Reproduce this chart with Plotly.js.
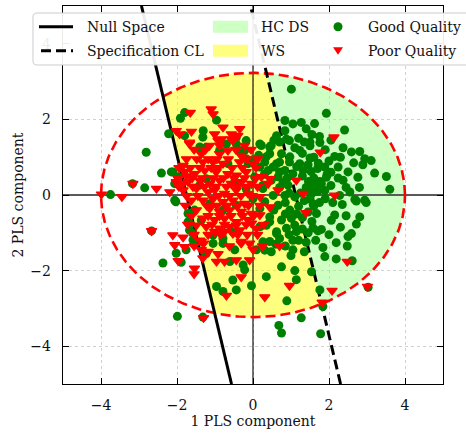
<!DOCTYPE html>
<html>
<head>
<meta charset="utf-8">
<script src="https://cdn.plot.ly/plotly-3.0.1.min.js"></script>
<style>
  html, body { margin: 0; padding: 0; background: #fff; }
  #chart { width: 466px; height: 434px; }
</style>
</head>
<body>
<div id="chart"></div>
<script>
// Scores on the first two PLS components: [component 1, component 2]
const goodQuality = [
  [-1.91,2.03],[-1.80,2.18],[-2.22,1.62],[-2.81,1.13],[-2.41,0.58],[-2.15,0.61],[-2.85,0.19],[-3.75,0.01],[-3.17,0.30],[-2.06,-0.14],
  [1.01,2.80],[-0.96,1.98],[-1.31,1.70],[0.84,1.97],[1.05,1.88],[1.27,1.92],[1.40,1.75],[0.84,1.70],[0.62,1.57],[0.22,1.31],
  [0.48,1.31],[0.70,1.40],[0.96,1.44],[1.23,1.18],[0.44,1.09],[0.75,1.09],[0.00,0.93],[0.31,0.87],[0.62,0.83],[0.96,0.87],
  [1.23,0.83],[0.40,0.65],[0.70,0.61],[1.05,0.56],[1.32,0.65],[0.48,0.39],[0.79,0.34],[0.26,0.25],[-0.44,1.52],[-0.70,1.35],
  [-1.23,1.26],[-0.35,1.18],[-0.18,0.96],
  [1.93,2.16],[2.41,1.72],[1.62,1.89],[1.55,1.60],[1.76,1.39],[1.50,1.40],[2.37,1.25],[2.59,1.14],[2.81,1.15],[2.15,1.02],
  [2.94,0.96],[3.11,0.91],[2.89,0.80],[2.24,0.74],[2.50,0.61],[2.76,0.47],[3.20,0.58],[3.51,0.49],[2.24,0.45],[2.37,0.39],
  [1.89,0.74],[1.72,0.84],[1.93,0.47],[1.76,0.36],[1.53,0.62],[1.50,0.98],[1.46,0.36],[1.62,0.23],[3.60,0.15],[2.55,0.08],
  [2.28,-0.01],[2.94,-0.14],[1.89,0.12],[1.54,0.03],
  [-2.03,-0.18],[-2.67,-0.95],[-2.02,-1.54],[-2.37,-1.80],[-1.89,-1.78],[-1.76,-1.45],[-1.99,-3.21],[-1.71,-0.49],[-1.67,-0.75],
  [-1.58,-1.02],[-1.36,-0.67],[-1.54,-0.40],
  [0.35,-2.16],[-0.04,-2.40],[-0.96,-2.42],[-0.79,-2.55],[-0.44,-2.51],[1.14,-2.24],[0.89,-2.80],[1.27,-3.25],[0.68,-3.45],
  [0.75,-3.65],[-0.53,-2.25],[-0.26,-1.85],[-0.22,-1.98],[0.62,-1.02],[0.88,-0.88],[1.14,-0.97],[1.05,-1.20],[1.05,-1.45],
  [0.48,-1.50],[0.31,-1.46],[-1.05,-1.28],[-0.79,-1.28],[-0.48,-1.45],[-1.23,-1.55],[-0.61,-1.76],[0.26,-1.24],[0.09,-1.45],
  [0.44,-0.71],[0.18,-0.84],
  [1.58,-0.23],[1.67,-0.49],[2.15,-0.53],[2.06,-0.67],[2.81,-0.58],[2.72,-0.77],[2.59,-1.02],[2.50,-1.10],[2.19,-1.26],
  [2.48,-1.35],[1.84,-1.39],[1.89,-1.63],[2.19,-1.69],[2.61,-1.74],[1.54,-2.03],[1.76,-2.51],[3.03,-2.44],[1.84,-2.95],
  [1.78,-3.67],[2.72,-0.16],[2.98,-0.20],[2.68,-0.12],[1.58,-0.87],[1.80,-0.91],[1.71,-0.95],[-1.32,-3.23],
  [-2.11,0.61],[-2.06,0.30],[-1.97,0.48],[-1.71,-0.71],[-1.67,-0.93],[-1.58,-1.19],[-1.05,-1.06],[-0.79,-1.15],[-0.53,-0.97],
  [-1.80,1.57],[-1.32,1.53],[-1.40,1.27],[-0.44,1.35],[-0.18,1.44],[-0.22,1.18],[-0.13,0.83],[0.18,1.35],[0.44,1.27],
  [0.88,1.48],[0.35,1.01],[0.70,0.87],[0.97,1.01],[0.53,0.74],[0.84,0.65],[0.18,0.74],[0.04,0.48],[0.66,0.48],[0.92,0.26],
  [0.26,0.17],[0.53,-0.01],[0.84,-0.01],[1.10,-0.05],[0.00,-0.10],[0.31,-0.18],[0.66,-0.27],[0.97,-0.40],[0.18,-0.36],
  [0.44,-0.58],[0.75,-0.66],[1.01,-0.62],[0.35,-0.80],[0.62,-0.97],[0.44,-1.23],[0.70,-1.15],[-1.14,-0.23],[-1.40,0.26],
  [-0.44,-0.27],[-0.79,-0.40],[-0.48,0.35],[-1.23,0.43],[-0.18,0.17],[-0.66,0.83],[-0.88,1.18],
  [1.20,1.50],[1.50,1.30],[1.30,1.10],[1.60,1.00],[1.45,0.80],[1.70,0.70],[1.30,0.50],[1.60,0.45],[1.80,0.30],[1.40,0.20],
  [1.70,0.10],[1.50,-0.10],[1.90,-0.10],[1.20,-0.30],[1.60,-0.30],[1.30,-0.60],[1.10,-0.80],[1.45,-1.00],[1.20,-1.20],
  [1.35,-1.50],[1.00,-1.60],[0.75,-1.90],[1.10,-2.00],[1.90,1.20],[2.00,0.90],[1.95,0.55],[2.05,0.25],[1.75,1.55],
  [0.15,1.05],[0.55,1.45],[1.10,1.25],[1.35,1.40],[0.30,0.55],[0.90,0.45],[1.15,0.75],[1.55,0.15],[1.25,0.05],[0.70,0.20],
  [0.95,0.05],[1.35,-0.15],[1.75,-0.20],[0.85,-0.20],[1.15,-0.50],[1.45,-0.45],[0.55,-0.40],[0.85,-0.50],[1.55,-0.70],
  [0.95,-1.05],[1.30,-0.90],[1.65,-1.20],[0.60,-1.30],[0.85,-1.35],[1.40,-1.25],[2.00,-1.05],[2.30,-0.85],[2.35,-0.25],
  [2.45,-0.55],[2.10,-0.20],[2.05,0.60],[2.30,1.00],[2.65,0.85],[2.45,0.20],[2.80,0.20],[2.05,1.45]
];

const poorQuality = [
  [-1.65,2.18],[-2.02,1.70],[-1.62,1.68],[-1.67,1.39],[-3.16,0.30],[-2.54,0.17],[-2.19,0.08],[-3.45,-0.05],[-3.99,0.02],
  [-1.84,0.78],[-1.97,0.43],[-1.75,0.50],[-1.85,0.30],
  [-1.10,2.27],[-1.05,2.14],[-0.79,1.79],[-0.35,1.75],[-1.01,1.61],[-0.57,1.61],[-0.83,1.48],[-0.53,1.44],[-1.14,1.31],
  [-0.88,1.31],[-0.22,1.31],[0.22,0.48],[0.40,0.30],[1.14,0.39],[1.32,0.04],[0.66,0.13],
  [2.13,1.53],[1.77,1.13],[2.15,-0.01],
  [-2.67,-0.95],[-2.11,-1.06],[-1.84,-1.12],[-2.06,-1.32],[-1.80,-1.37],[-1.97,-1.74],[-1.54,-1.94],[-1.55,-2.09],
  [-1.40,-1.20],[-1.30,-1.28],[-1.36,-1.45],[-1.32,-1.67],[-1.30,-3.25],
  [0.31,-2.70],[0.96,-2.40],[-0.70,-2.66],[-0.31,-2.17],[0.70,-1.35],[-0.09,-1.72],[-0.44,-1.72],[-0.75,-1.76],[-0.96,-1.76],
  [-0.92,-1.56],[-0.31,-1.28],[-0.09,-1.28],[0.00,-1.44],[-1.18,-1.50],[-1.01,-0.97],[-0.75,-0.97],[-0.53,-1.02],[-0.44,-0.80],
  [-0.04,-0.75],[0.09,-0.88],[0.18,-0.53],[0.44,-0.32],
  [1.39,-0.47],[2.48,-1.76],[2.08,-2.53],[3.01,-2.42],[1.82,-2.84],
  [-1.93,1.61],[-1.67,1.35],[-0.92,1.44],[-0.57,1.48],[-0.40,1.57],[-1.36,1.09],[-0.88,1.09],[-0.66,1.18],[-0.31,1.04],
  [-1.32,0.87],[-1.05,0.87],[-0.79,0.83],[-0.35,0.87],[0.00,0.83],[-1.80,0.61],[-1.54,0.56],[-1.27,0.65],[-0.97,0.61],
  [-0.66,0.56],[-0.44,0.52],[-0.18,0.61],[0.44,0.43],[-2.02,0.35],[-1.71,0.35],[-1.40,0.39],[-1.14,0.30],[-0.88,0.39],
  [-0.57,0.30],[-0.31,0.35],[-0.04,0.30],[-1.84,0.13],[-1.49,0.17],[-1.18,0.08],[-1.01,0.13],[-0.75,0.04],[-0.44,0.13],
  [-0.13,0.04],[0.18,-0.05],[-1.62,-0.14],[-1.32,-0.14],[-1.05,-0.10],[-0.79,-0.18],[-0.53,-0.14],[-0.22,-0.23],
  [-1.49,-0.40],[-1.14,-0.36],[-0.88,-0.44],[-0.62,-0.40],[-0.31,-0.44],[-0.04,-0.49],[-1.32,-0.62],[-1.01,-0.66],
  [-0.75,-0.62],[-0.44,-0.71],[-0.13,-0.66],[-1.49,-0.80],[-1.23,-0.84],[-0.88,-0.88],[-0.62,-0.84],[-0.35,-0.93],
  [-1.36,-1.23],[-0.31,-1.23],
  [-1.55,1.20],[-1.25,1.20],[-0.45,1.20],[-0.05,1.20],
  [-1.75,0.95],[-1.48,0.95],[-1.18,0.95],[-0.95,0.95],[-0.65,0.95],[-0.18,0.95],[0.12,0.95],
  [-1.95,0.72],[-1.65,0.72],[-1.40,0.72],[-1.10,0.72],[-0.92,0.72],[-0.55,0.72],[-0.28,0.72],[0.08,0.72],
  [-1.60,0.45],[-1.33,0.45],[-1.05,0.45],[-0.78,0.45],[-0.50,0.45],[-0.22,0.45],[0.08,0.45],
  [-1.95,0.22],[-1.58,0.22],[-1.28,0.22],[-0.98,0.22],[-0.70,0.22],[-0.42,0.22],[-0.18,0.22],[0.12,0.22],
  [-1.75,-0.02],[-1.45,-0.02],[-0.90,-0.02],[-0.62,-0.02],[-0.32,-0.02],[-0.02,-0.02],
  [-1.78,-0.28],[-1.22,-0.28],[-0.95,-0.28],[-0.68,-0.28],[-0.40,-0.28],[-0.12,-0.28],[0.18,-0.28],
  [-1.62,-0.55],[-1.18,-0.55],[-0.88,-0.55],[-0.58,-0.55],[-0.28,-0.55],[0.02,-0.55],
  [-1.72,-0.78],[-1.08,-0.78],[-0.75,-0.78],[-0.18,-0.78],[0.28,-0.78],
  [-1.55,-1.05],[-1.18,-1.05],[-0.85,-1.05],[-0.40,-1.05],[-0.15,-1.05],[0.12,-1.05],
  [-1.55,-1.35],[-0.62,-1.35],[0.25,-1.35]
];

const tickValues = [-4, -2, 0, 2, 4];
const axisRange = [-5, 5];

// Hotelling-type confidence ellipse (semi-axes along the two components)
const ellipseA = 4.0;
const ellipseB = 3.23;

// Two parallel boundaries, written as  x = c - slope * y
const boundarySlope = 0.237;
const nullSpaceC = -1.75;
const specLimitC = 1.12;

const legendRows = [
  ['Null Space', 'HC DS', 'Good Quality'],
  ['Specification CL', 'WS', 'Poor Quality']
];

// ---- geometry helpers ----
function ellipsePolygon(n) {
  const pts = [];
  for (let i = 0; i < n; i++) {
    const t = 2 * Math.PI * i / n;
    pts.push([ellipseA * Math.cos(t), ellipseB * Math.sin(t)]);
  }
  return pts;
}
// Sutherland–Hodgman clip against the half-plane f(p) >= 0
function clipHalfPlane(poly, f) {
  const out = [];
  for (let i = 0; i < poly.length; i++) {
    const p = poly[i], q = poly[(i + 1) % poly.length];
    const fp = f(p), fq = f(q);
    if (fp >= 0) out.push(p);
    if ((fp >= 0) !== (fq >= 0)) {
      const t = fp / (fp - fq);
      out.push([p[0] + t * (q[0] - p[0]), p[1] + t * (q[1] - p[1])]);
    }
  }
  return out;
}
const boundaryX = (c, y) => c - boundarySlope * y;
const rightOf = c => p => p[0] - boundaryX(c, p[1]);
const leftOf = c => p => boundaryX(c, p[1]) - p[0];

const ellipsePts = ellipsePolygon(400);
const wsPoly = clipHalfPlane(clipHalfPlane(ellipsePts, rightOf(nullSpaceC)), leftOf(specLimitC));
const dsPoly = clipHalfPlane(ellipsePts, rightOf(specLimitC));
const closed = poly => poly.concat([poly[0]]);

const YELLOW = 'rgba(255,255,0,0.5)';
const GREEN_FILL = 'rgba(152,255,130,0.48)';

function areaTrace(poly, color) {
  const c = closed(poly);
  return {
    x: c.map(p => p[0]), y: c.map(p => p[1]),
    type: 'scatter', mode: 'lines', fill: 'toself', fillcolor: color,
    line: { width: 0, color: color }, hoverinfo: 'skip', showlegend: false
  };
}
function lineTrace(xs, ys, line) {
  return { x: xs, y: ys, type: 'scatter', mode: 'lines', line: line, hoverinfo: 'skip', showlegend: false };
}

const ellClosed = closed(ellipsePts);
const yEnds = axisRange;

const traces = [
  areaTrace(dsPoly, GREEN_FILL),
  areaTrace(wsPoly, YELLOW),
  lineTrace(axisRange, [0, 0], { color: '#5a5a5a', width: 1.8 }),
  lineTrace([0, 0], axisRange, { color: '#000', width: 1.1 }),
  lineTrace(ellClosed.map(p => p[0]), ellClosed.map(p => p[1]), { color: '#ff0000', width: 2.6, dash: '10px,5px' }),
  lineTrace(yEnds.map(y => boundaryX(nullSpaceC, y)), yEnds, { color: '#000', width: 3 }),
  lineTrace(yEnds.map(y => boundaryX(specLimitC, y)), yEnds, { color: '#000', width: 3, dash: '10px,5px' }),
  {
    x: goodQuality.map(p => p[0]), y: goodQuality.map(p => p[1]),
    type: 'scatter', mode: 'markers', name: 'Good Quality', showlegend: false,
    marker: { symbol: 'circle', size: 9, color: '#008000' }
  },
  {
    x: poorQuality.map(p => p[0]), y: poorQuality.map(p => p[1]),
    type: 'scatter', mode: 'markers', name: 'Poor Quality', showlegend: false,
    marker: { symbol: 'triangle-down', size: 9, color: '#ff0000', line: { color: '#ff0000', width: 1.2 } }
  }
];

// ---- page geometry (pixels) ----
const W = 466, H = 434;
const M = { l: 63, r: 23, t: 6, b: 50 };
const PW = W - M.l - M.r, PH = H - M.t - M.b;
const pxX = v => (v - M.l) / PW;          // pixel x -> paper
const pxY = v => (H - M.b - v) / PH;      // pixel y -> paper

const FONT = 'DejaVu Serif, Liberation Serif, serif';

// ---- hand-built legend ----
const shapes = [];
const annotations = [];
(function buildLegend() {
  const x0 = 33, x1 = 480, y0 = 13, y1 = 65, r = 4;
  const P = (x, y) => pxX(x).toFixed(5) + ',' + pxY(y).toFixed(5);
  const path = 'M' + P(x0 + r, y0) + ' L' + P(x1, y0) + ' L' + P(x1, y1) + ' L' + P(x0 + r, y1) +
               ' Q' + P(x0, y1) + ' ' + P(x0, y1 - r) + ' L' + P(x0, y0 + r) +
               ' Q' + P(x0, y0) + ' ' + P(x0 + r, y0) + ' Z';
  shapes.push({ type: 'path', xref: 'paper', yref: 'paper', path: path, layer: 'above',
                fillcolor: 'rgba(255,255,255,0.92)', line: { color: '#cccccc', width: 1 } });

  const rowY = [26.7, 50.7];
  // line handles
  shapes.push({ type: 'line', xref: 'paper', yref: 'paper', layer: 'above',
                x0: pxX(39), x1: pxX(73), y0: pxY(rowY[0]), y1: pxY(rowY[0]), line: { color: '#000', width: 3 } });
  shapes.push({ type: 'line', xref: 'paper', yref: 'paper', layer: 'above',
                x0: pxX(41), x1: pxX(73), y0: pxY(rowY[1]), y1: pxY(rowY[1]), line: { color: '#000', width: 3, dash: '10px,5px' } });
  // patch handles
  [[GREEN_FILL, rowY[0]], [YELLOW, rowY[1]]].forEach(([c, yc]) => {
    shapes.push({ type: 'rect', xref: 'paper', yref: 'paper', layer: 'above',
                  x0: pxX(213), x1: pxX(248), y0: pxY(yc - 6), y1: pxY(yc + 6),
                  fillcolor: c, line: { width: 0 } });
  });
  // marker handles
  const mx = 338;
  shapes.push({ type: 'circle', xref: 'paper', yref: 'paper', layer: 'above',
                x0: pxX(mx - 4.5), x1: pxX(mx + 4.5), y0: pxY(rowY[0] - 4.5), y1: pxY(rowY[0] + 4.5),
                fillcolor: '#008000', line: { width: 0 } });
  shapes.push({ type: 'path', xref: 'paper', yref: 'paper', layer: 'above',
                path: 'M' + P(mx - 5, rowY[1] - 3.5) + ' L' + P(mx + 5, rowY[1] - 3.5) + ' L' + P(mx, rowY[1] + 4) + ' Z',
                fillcolor: '#ff0000', line: { width: 0 } });
  // labels
  const textX = [85, 259, 366];
  legendRows.forEach((row, ri) => {
    row.forEach((label, ci) => {
      annotations.push({ text: label, xref: 'paper', yref: 'paper', x: pxX(textX[ci]), y: pxY(rowY[ri]),
                         xanchor: 'left', yanchor: 'middle', showarrow: false,
                         font: { family: FONT, size: 14, color: '#111' } });
    });
  });
})();

const axisCommon = {
  range: axisRange, tickvals: tickValues, ticks: 'inside', ticklen: 6, tickwidth: 1, tickcolor: '#000',
  showline: true, linecolor: '#000', linewidth: 1.2, mirror: 'ticks',
  showgrid: true, gridcolor: '#bdbdbd', gridwidth: 0.7, griddash: 'dot',
  zeroline: false, automargin: false, ticklabelstandoff: 8,
  tickfont: { family: FONT, size: 14, color: '#111' }
};

const layout = {
  width: W, height: H, margin: M,
  paper_bgcolor: '#fff', plot_bgcolor: '#fff',
  showlegend: false,
  font: { family: FONT, size: 14, color: '#111' },
  xaxis: Object.assign({}, axisCommon, {
    title: { text: '1 PLS component', standoff: 4, font: { family: FONT, size: 14, color: '#111' } }
  }),
  yaxis: Object.assign({}, axisCommon, {
    title: { text: '2 PLS component', standoff: 3, font: { family: FONT, size: 14, color: '#111' } }
  }),
  shapes: shapes,
  annotations: annotations
};

Plotly.newPlot('chart', traces, layout, { staticPlot: true, displayModeBar: false });
</script>
</body>
</html>
